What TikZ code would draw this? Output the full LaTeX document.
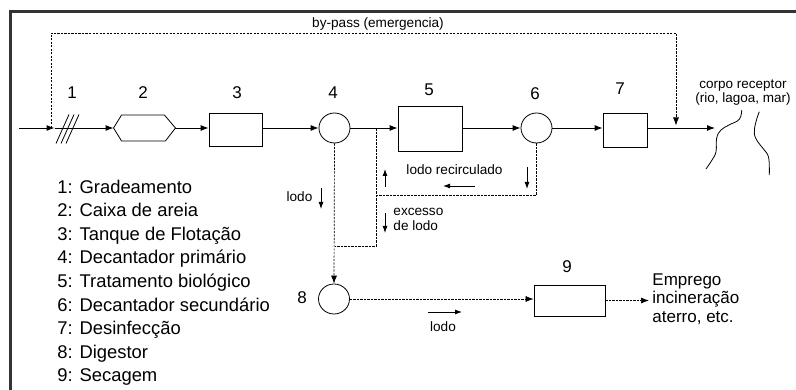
\documentclass[tikz,border=0pt]{standalone}
\usepackage{fontspec}
\setmainfont{Liberation Sans}
\usetikzlibrary{arrows.meta,calc,shapes.geometric}
\begin{document}
\begin{tikzpicture}[x=1pt,y=1pt,
  line width=0.9pt,
  arr/.style={-{Latex[length=8pt,width=6pt]}},
  sarr/.style={-{Latex[length=7pt,width=5pt]}, line width=0.9pt},
  dsh/.style={line width=0.7pt, dash pattern=on 2.2pt off 1.3pt},
  unit/.style={draw, rectangle, inner sep=0pt, line width=0.8pt},
  tank/.style={draw, ellipse, inner sep=0pt, minimum width=31pt, minimum height=30pt, line width=0.8pt},
  num/.style={font=\fontsize{17}{20}\selectfont, inner sep=0pt},
  small/.style={font=\fontsize{13.6}{15}\selectfont, inner sep=0pt},
  leg/.style={font=\fontsize{18.4}{22}\selectfont, inner sep=0pt, anchor=base west},
  frame/.style={line width=2.6pt, draw=black!80}
]
\useasboundingbox (0,0) rectangle (796,-390);
\draw[frame] (10.5,-392) -- (10.5,-11.3) -- (798,-11.3);

% main line
\coordinate (in) at (19,-128);
\node[minimum width=25pt, minimum height=29pt, inner sep=0pt] (g1) at (67.5,-128) {};
\foreach \i in {0,1,2} \draw[line width=0.8pt] (56+5*\i,-143.5) -- (69+5*\i,-114.5);
\node[minimum width=61pt, minimum height=25pt, inner sep=0pt] (h2) at (144.5,-128) {};
\draw[line width=0.8pt] (h2.west) -- ([xshift=8pt]h2.north west) -- ([xshift=-11pt]h2.north east) -- (h2.east) -- ([xshift=-10pt]h2.south east) -- ([xshift=8pt]h2.south west) -- cycle;
\node[unit, minimum width=53pt, minimum height=33pt] (b3) at (235.5,-129.5) {};
\node[tank] (c4) at (334.5,-128) {};
\node[unit, minimum width=64pt, minimum height=45pt] (b5) at (430,-128.5) {};
\node[tank] (c6) at (536.5,-128) {};
\node[unit, minimum width=44pt, minimum height=34pt] (b7) at (625,-130) {};
\coordinate (rcv) at (715,-128);

\draw[arr] (in) -- (g1.west);
\draw[arr] (g1.west) -- (h2.west);
\draw[arr] (h2.east) -- (h2.east -| b3.west);
\draw[arr] (c4.west -| b3.east) -- (c4.west);
\draw[arr] (c4.east) -- (c4.east -| b5.west);
\draw[arr] (c6.west -| b5.east) -- (c6.west);
\draw[arr] (c6.east) -- (c6.east -| b7.west);
\draw[arr] (rcv -| b7.east) -- (rcv);

% numbers
\node[num] at (72,-93) {1};
\node[num] at (143,-93) {2};
\node[num] at (237,-93) {3};
\node[num] at (333,-93) {4};
\node[num] at (429,-90) {5};
\node[num] at (535,-94) {6};
\node[num] at (620,-89) {7};

% by-pass
\coordinate (bpS) at (51,-128);
\coordinate (bpE) at (676,-125.5);
\draw[dsh,arr] (bpS) -- ++(0,95) -| (bpE);
\node[small] at (378,-24) {by-pass (emergencia)};

% receptor
\node[small, align=center, font=\fontsize{13.5}{14}\selectfont] (cr) at (743,-93) {corpo receptor\\(rio, lagoa, mar)};
\draw[line width=0.8pt] plot[smooth, tension=0.7] coordinates {(741.7,-110) (739.3,-119.3) (729,-125) (721,-130) (716.7,-138) (716,-151.7) (712,-160) (706,-169)};
\draw[line width=0.8pt] plot[smooth, tension=0.7] coordinates {(759.3,-111.7) (756,-121.7) (754.3,-133) (757.7,-141.7) (764.3,-150) (768.7,-158) (769.3,-175)};

% sludge lines
\node[tank] (c8) at (334,-299) {};
\node[num] at (302,-298) {8};
\coordinate (j1) at (376,-128);
\coordinate (j2) at (376,-195);
\coordinate (j3) at (376,-246);
\draw[dsh,arr] (c4.south) -- (c8.north);
\draw[dsh] (c6.south) |- (j2) -- (j1);
\draw[dsh] (j2) -- (j3) -- (j3 -| c4.south);

\node[unit, minimum width=71pt, minimum height=31pt] (b9) at (569.5,-300.5) {};
\node[num] at (567,-267) {9};
\draw[dsh,arr] (c8.east) -- (c8.east -| b9.west);
\node[anchor=west, align=left, inner sep=0pt, font=\fontsize{17}{18.3}\selectfont] (emp) at (652,-299) {Emprego\\incineração\\aterro, etc.};
\draw[dsh,arr,shorten >=3pt] (b9.east) -- (b9.east -| emp.west);

% labels
\node[small] at (299.5,-197) {lodo};
\node[small] at (454.5,-170) {lodo recirculado};
\node[small, anchor=west, align=left] at (393,-219.5) {excesso\\de lodo};
\node[small] at (443,-327) {lodo};
\draw[sarr] (321,-188) -- (321,-209);
\draw[sarr] (385,-213) -- (385,-233);
\draw[sarr] (385,-187) -- (385,-169);
\draw[sarr] (475,-186) -- (443,-186);
\draw[sarr] (527,-167) -- (527,-189);
\draw[sarr] (428,-312) -- (462,-312);

% legend
\foreach \t [count=\i from 0] in {1: Gradeamento, 2: Caixa de areia, 3: Tanque de Flotação, 4: Decantador primário, 5: Tratamento biológico, 6: Decantador secundário, 7: Desinfecção, 8: Digestor, 9: Secagem}
  \node[leg] at (57,-193.3-23.55*\i) {\t};
\end{tikzpicture}
\end{document}
